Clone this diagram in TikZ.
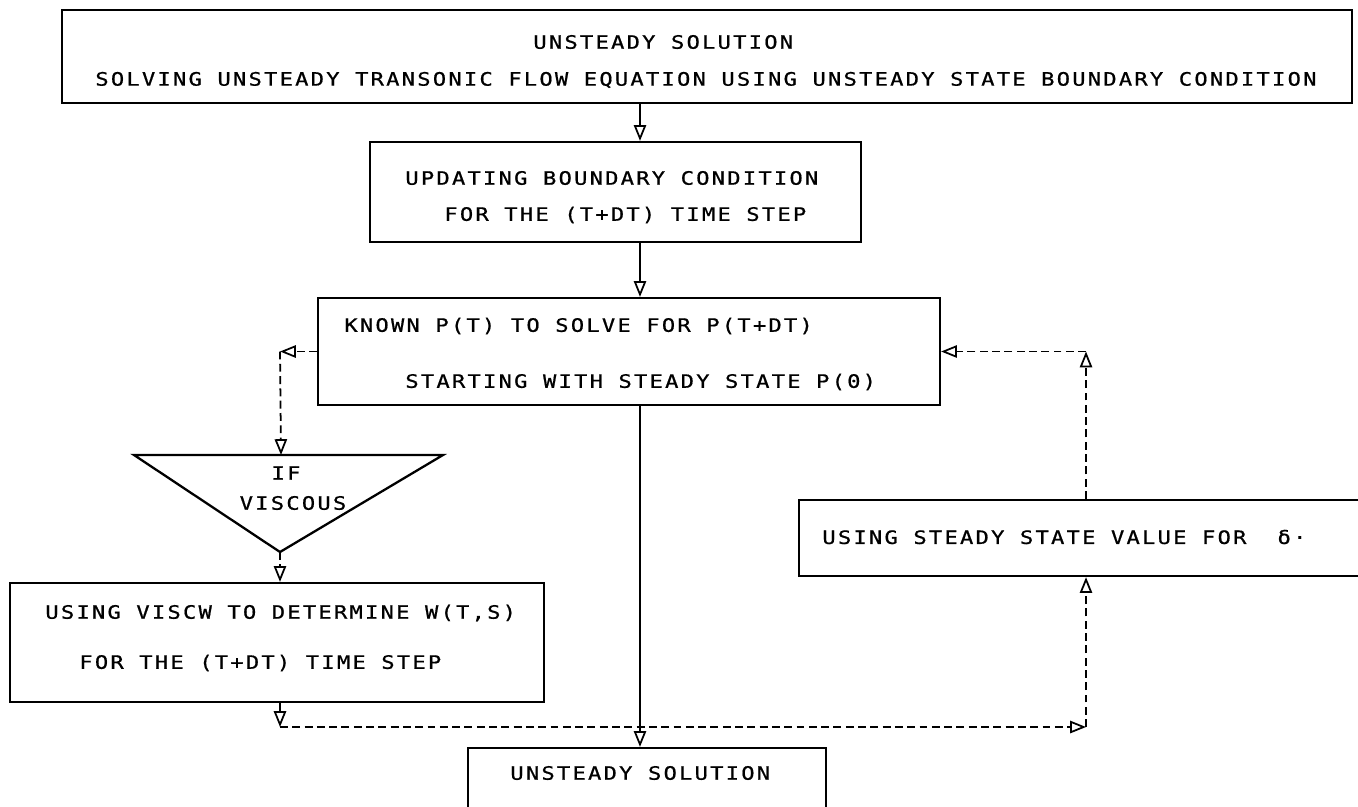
\documentclass[tikz,border=0pt]{standalone}
\usepackage{fontspec}
\newfontfamily\plotfont[FakeStretch=1.2, LetterSpace=12, FakeBold=0.8]{DejaVu Sans Mono}
\usepackage{tikz}
\usetikzlibrary{arrows.meta, positioning, calc}

\begin{document}
\begin{tikzpicture}[
  x=0.02cm, y=-0.02cm,
  box/.style={rectangle, draw, line width=1.3pt, inner sep=0pt},
  txt/.style={font={\plotfont\fontsize{10.5}{12}\selectfont}, inner sep=0pt, anchor=west},
  flow/.style={line width=1pt, -{Triangle[open, length=9pt, width=7pt]}},
  dflow/.style={flow, dash pattern=on 4.5pt off 2.5pt},
  >=Stealth
]
  \useasboundingbox (0,0) rectangle (1358,806);
  \clip (0,0) rectangle (1358,806);

  % Boxes
  \node[box, minimum width=25.8cm, minimum height=1.86cm] (top) at (707,56.5) {};
  \node[box, minimum width=9.82cm, minimum height=2.0cm] (upd) at (615.5,192) {};
  \node[box, minimum width=12.44cm, minimum height=2.14cm] (known) at (629,351.5) {};
  \node[box, minimum width=10.68cm, minimum height=2.38cm] (visc) at (277,642.5) {};
  \node[box, minimum width=11.42cm, minimum height=1.52cm] (steady) at (1084.5,538) {};
  \node[box, minimum width=7.16cm, minimum height=1.64cm] (fin) at (647,789) {};

  % Decision triangle
  \coordinate (ifl) at (134,455);
  \coordinate (ifr) at (443,455);
  \coordinate (ifapex) at (280,552);
  \coordinate (iftop) at (281,455);
  \draw[line width=1.3pt] (ifl) -- (ifr) -- (ifapex) -- cycle;

  % Texts
  \node[txt] (top1) at (533,42) {UNSTEADY SOLUTION};
  \node[txt] (top2) at (95,80) {SOLVING UNSTEADY TRANSONIC FLOW EQUATION USING UNSTEADY STATE BOUNDARY CONDITION};
  \node[txt] (upd1) at (405,178) {UPDATING BOUNDARY CONDITION};
  \node[txt] (upd2) at (444,215) {FOR THE (T+DT) TIME STEP};
  \node[txt] (known1) at (344,326) {KNOWN P(T) TO SOLVE FOR P(T+DT)};
  \node[txt] (known2) at (405,382) {STARTING WITH STEADY STATE P(0)};
  \node[txt, anchor=center] (if1) at (286,473) {IF};
  \node[txt, anchor=center] (if2) at (293,503) {VISCOUS};
  \node[txt] (visc1) at (45,613) {USING VISCW TO DETERMINE W(T,S)};
  \node[txt] (visc2) at (79,663) {FOR THE (T+DT) TIME STEP};
  \node[txt] (steady1) at (822,537) {USING STEADY STATE VALUE FOR \ δ·};
  \node[txt] (fin1) at (510,773) {UNSTEADY SOLUTION};

  % Axes of the connectors
  \coordinate (mid) at (640,0);
  \coordinate (lx) at (280,0);
  \coordinate (rx) at (1086,0);
  \coordinate (jn) at (280,727);

  % Main flow
  \draw[flow] (top.south -| mid) -- (upd.north -| mid);
  \draw[flow] (upd.south -| mid) -- (known.north -| mid);
  \draw[flow] (known.south -| mid) -- (fin.north -| mid);

  % Viscous branch
  \draw[dflow] (known.west) -- (known.west -| lx);
  \draw[dflow] (known.west -| lx) -- (iftop);
  \draw[dflow] (ifapex) -- (visc.north -| lx);
  \draw[dflow] (visc.south -| lx) -- (jn);
  \draw[dflow] (jn) -- (jn -| rx);

  % Steady state loop
  \draw[dflow] (jn -| rx) -- (steady.south -| rx);
  \draw[dflow] (steady.north -| rx) -- (known.east -| rx);
  \draw[dflow] (known.east -| rx) -- (known.east);
\end{tikzpicture}
\end{document}
